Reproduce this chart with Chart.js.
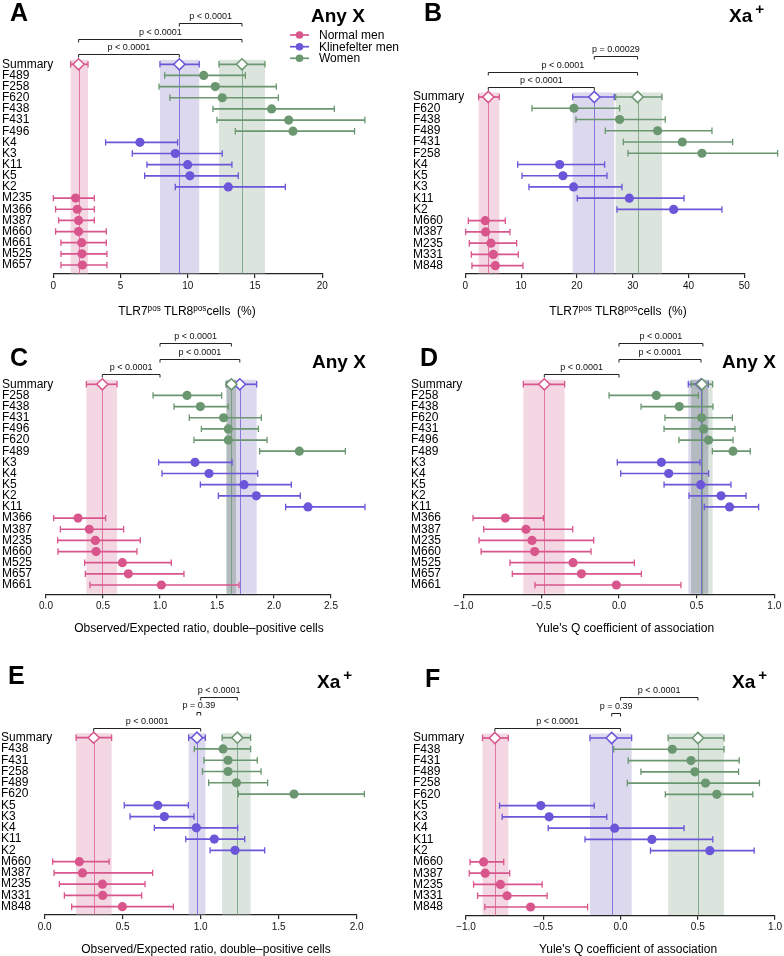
<!DOCTYPE html>
<html>
<head>
<meta charset="utf-8">
<script src="https://cdn.jsdelivr.net/npm/chart.js@4.4.1/dist/chart.umd.min.js"></script>
<style>
  body { margin: 0; background: #fff; width: 784px; height: 956px; position: relative; overflow: hidden;
         font-family: 'Liberation Sans', Arial, Helvetica, sans-serif; color: #000; }
  canvas { position: absolute; }
  .t { position: absolute; white-space: nowrap; line-height: 1; }
  .let { font-weight: bold; font-size: 25px; transform: translateY(-50%); }
  .ttl { font-weight: bold; font-size: 19px; transform: translateY(-50%); }
  .ax { font-size: 12px; transform: translate(-50%, -50%); }
  .lg { font-size: 12px; transform: translateY(-50%); }
  .sup { font-size: 0.68em; position: relative; top: -0.45em; }
  .sup2 { font-size: 0.8em; position: relative; top: -0.5em; margin-left: 3px; }
</style>
</head>
<body>
<canvas id="cA" width="392" height="300" style="left:0;top:0"></canvas>
<canvas id="cB" width="392" height="300" style="left:392px;top:0"></canvas>
<canvas id="cC" width="392" height="320" style="left:0;top:300px"></canvas>
<canvas id="cD" width="392" height="320" style="left:392px;top:300px"></canvas>
<canvas id="cE" width="392" height="336" style="left:0;top:620px"></canvas>
<canvas id="cF" width="392" height="336" style="left:392px;top:620px"></canvas>

<div class="t let" style="left:10px;top:12px">A</div>
<div class="t let" style="left:424px;top:12px">B</div>
<div class="t let" style="left:10px;top:357px">C</div>
<div class="t let" style="left:420px;top:357px">D</div>
<div class="t let" style="left:8px;top:675px">E</div>
<div class="t let" style="left:425px;top:678px">F</div>

<div class="t ttl" style="left:311px;top:15px">Any X</div>
<div class="t ttl" style="left:729px;top:15px">Xa<span class="sup2">+</span></div>
<div class="t ttl" style="left:312px;top:361px">Any X</div>
<div class="t ttl" style="left:722px;top:361px">Any X</div>
<div class="t ttl" style="left:317px;top:681px">Xa<span class="sup2">+</span></div>
<div class="t ttl" style="left:732px;top:681px">Xa<span class="sup2">+</span></div>

<div class="t lg" style="left:319px;top:34.5px">Normal men</div>
<div class="t lg" style="left:319px;top:46.5px">Klinefelter men</div>
<div class="t lg" style="left:319px;top:58px">Women</div>

<div class="t ax" style="left:187px;top:311px">TLR7<span class="sup">pos</span> TLR8<span class="sup">pos</span>cells&nbsp; (%)</div>
<div class="t ax" style="left:618px;top:311px">TLR7<span class="sup">pos</span> TLR8<span class="sup">pos</span>cells&nbsp; (%)</div>
<div class="t ax" style="left:199px;top:628px">Observed/Expected ratio, double–positive cells</div>
<div class="t ax" style="left:625px;top:628px">Yule's Q coefficient of association</div>
<div class="t ax" style="left:206px;top:949px">Observed/Expected ratio, double–positive cells</div>
<div class="t ax" style="left:628px;top:949px">Yule's Q coefficient of association</div>

<script>
// ---- data (summary order: Normal men, Klinefelter men, Women) ----
// A: Any X, % double positive
const idsA = ['F489','F258','F620','F438','F431','F496','K4','K3','K11','K5','K2','M235','M366','M387','M660','M661','M525','M657'];
const estA = [11.18, 12.04, 12.56, 16.23, 17.5, 17.82, 6.44, 9.07, 9.99, 10.16, 13.01, 1.66, 1.78, 1.88, 1.88, 2.11, 2.13, 2.16];
const loA  = [8.28, 7.86, 8.67, 11.87, 12.17, 13.53, 3.89, 5.87, 6.96, 6.79, 9.07, 0.0, 0.17, 0.4, 0.17, 0.57, 0.57, 0.57];
const hiA  = [14.28, 16.58, 16.73, 20.89, 23.17, 22.4, 9.24, 12.56, 13.28, 13.75, 17.25, 3.05, 3.05, 3.05, 3.94, 3.94, 3.99, 3.99];
const sumEstA = [1.88, 9.37, 14.03];
const sumLoA  = [1.29, 7.93, 12.32];
const sumHiA  = [2.58, 10.85, 15.74];
const brFromA = [9.37, 1.88, 1.88];
const brToA   = [14.03, 14.03, 9.37];
const brTextA = ['p < 0.0001', 'p < 0.0001', 'p < 0.0001'];

// B: Xa+, % double positive
const idsB = ['F620','F438','F489','F431','F258','K4','K5','K3','K11','K2','M660','M387','M235','M331','M848'];
const estB = [19.47, 27.66, 34.47, 38.89, 42.41, 16.91, 17.5, 19.41, 29.39, 37.34, 3.58, 3.64, 4.6, 5.02, 5.38];
const loB  = [11.95, 19.83, 25.09, 28.32, 29.15, 9.38, 10.16, 11.41, 20.07, 27.18, 0.54, 0.06, 0.72, 1.08, 1.19];
const hiB  = [27.66, 35.84, 44.21, 47.91, 55.97, 24.97, 25.39, 28.08, 39.19, 46.0, 7.17, 8.0, 9.2, 9.5, 10.33];
const sumEstB = [4.12, 23.12, 30.88];
const sumLoB  = [2.39, 19.24, 26.94];
const sumHiB  = [6.09, 26.7, 35.24];
const brFromB = [23.12, 4.12, 4.12];
const brToB   = [30.88, 30.88, 23.12];
const brTextB = ['p = 0.00029', 'p < 0.0001', 'p < 0.0001'];

// C: Any X, observed/expected ratio
const idsC = ['F258','F438','F431','F496','F620','F489','K3','K4','K5','K2','K11','M366','M387','M235','M660','M525','M657','M661'];
const estC = [1.237, 1.354, 1.558, 1.599, 1.599, 2.222, 1.307, 1.43, 1.737, 1.845, 2.298, 0.281, 0.38, 0.433, 0.439, 0.67, 0.722, 1.012];
const loC  = [0.939, 1.123, 1.257, 1.363, 1.298, 1.874, 0.988, 1.018, 1.354, 1.512, 2.102, 0.067, 0.126, 0.102, 0.105, 0.339, 0.345, 0.386];
const hiC  = [1.541, 1.599, 1.889, 1.863, 1.939, 2.626, 1.632, 1.857, 2.152, 2.231, 2.798, 0.523, 0.681, 0.827, 0.798, 1.099, 1.21, 1.693];
const sumEstC = [0.494, 1.70, 1.626];
const sumLoC  = [0.354, 1.585, 1.579];
const sumHiC  = [0.623, 1.848, 1.667];
const brFromC = [1.0, 1.0, 0.494];
const brToC   = [1.626, 1.70, 1.0];
const brTextC = ['p < 0.0001', 'p < 0.0001', 'p < 0.0001'];

// D: Any X, Yule's Q
const idsD = ['F258','F438','F620','F431','F496','F489','K3','K4','K5','K2','K11','M366','M387','M235','M660','M525','M657','M661'];
const estD = [0.240, 0.388, 0.532, 0.545, 0.577, 0.734, 0.273, 0.320, 0.526, 0.657, 0.712, -0.732, -0.599, -0.560, -0.543, -0.296, -0.242, -0.017];
const loD  = [-0.064, 0.142, 0.296, 0.290, 0.386, 0.601, -0.011, 0.011, 0.290, 0.451, 0.549, -0.940, -0.871, -0.901, -0.888, -0.702, -0.687, -0.541];
const hiD  = [0.511, 0.605, 0.730, 0.747, 0.734, 0.845, 0.521, 0.577, 0.721, 0.818, 0.899, -0.487, -0.298, -0.163, -0.180, 0.099, 0.144, 0.399];
const sumEstD = [-0.481, 0.528, 0.534];
const sumLoD  = [-0.616, 0.446, 0.464];
const sumHiD  = [-0.350, 0.575, 0.603];
const brFromD = [0, 0, -0.481];
const brToD   = [0.54, 0.528, 0];
const brTextD = ['p < 0.0001', 'p < 0.0001', 'p < 0.0001'];

// E: Xa+, observed/expected ratio
const idsE = ['F438','F431','F258','F489','F620','K5','K3','K4','K11','K2','M660','M387','M235','M331','M848'];
const estE = [1.143, 1.175, 1.175, 1.229, 1.598, 0.725, 0.767, 0.972, 1.087, 1.22, 0.222, 0.242, 0.370, 0.372, 0.498];
const loE  = [0.959, 1.021, 1.011, 1.051, 1.241, 0.51, 0.547, 0.703, 0.904, 1.06, 0.051, 0.06, 0.094, 0.126, 0.173];
const hiE  = [1.32, 1.363, 1.387, 1.429, 2.049, 0.921, 0.957, 1.237, 1.282, 1.41, 0.413, 0.692, 0.643, 0.622, 0.825];
const sumEstE = [0.314, 0.976, 1.235];
const sumLoE  = [0.201, 0.923, 1.137];
const sumHiE  = [0.429, 1.03, 1.32];
const brFromE = [1.0, 0.976, 0.314];
const brToE   = [1.235, 1.0, 1.0];
const brTextE = ['p < 0.0001', 'p = 0.39', 'p < 0.0001'];

// F: Xa+, Yule's Q
const idsF = ['F438','F431','F489','F258','F620','K5','K3','K4','K11','K2','M660','M387','M235','M331','M848'];
const estF = [0.335, 0.456, 0.481, 0.550, 0.623, -0.516, -0.462, -0.038, 0.203, 0.578, -0.886, -0.876, -0.777, -0.734, -0.582];
const loF  = [-0.044, 0.050, 0.132, 0.044, 0.290, -0.783, -0.766, -0.468, -0.230, 0.194, -0.974, -0.979, -0.951, -0.925, -0.878];
const hiF  = [0.670, 0.768, 0.764, 0.899, 0.856, -0.170, -0.089, 0.411, 0.597, 0.865, -0.756, -0.717, -0.507, -0.475, -0.213];
const sumEstF = [-0.813, -0.057, 0.501];
const sumLoF  = [-0.893, -0.198, 0.308];
const sumHiF  = [-0.726, 0.072, 0.670];
const brFromF = [0, -0.057, -0.813];
const brToF   = [0.501, 0, 0];
const brTextF = ['p < 0.0001', 'p = 0.39', 'p < 0.0001'];

// ---- styling ----
const COLORS = ['#d9568d', '#6b55d8', '#6a9670'];
const BANDS = ['#f3d8e3', '#dcd8ed', '#dce5dd'];
const OVERLAP = '#b3bbc0';
const FONT = "'Liberation Sans', Arial, Helvetica, sans-serif";
const AXIS = '#222';

function groupOf(id) {
    return id[0] === 'M' ? 0 : (id[0] === 'K' ? 1 : 2);
}

const forestPlugin = {
    id: 'forest',
    beforeDatasetsDraw(chart, args, o) {
        const { ctx, chartArea: ca } = chart;
        const x = chart.scales.x, y = chart.scales.y;
        const d = o.d;
        ctx.save();
        // shaded summary intervals
        for (let g = 0; g < 3; g++) {
            const x0 = x.getPixelForValue(d.sLo[g]), x1 = x.getPixelForValue(d.sHi[g]);
            ctx.fillStyle = BANDS[g];
            ctx.fillRect(x0, ca.top, x1 - x0, ca.bottom - ca.top - 0.7);
        }
        // overlapping intervals
        for (let a = 0; a < 3; a++) {
            for (let b = a + 1; b < 3; b++) {
                const lo = Math.max(d.sLo[a], d.sLo[b]), hi = Math.min(d.sHi[a], d.sHi[b]);
                if (hi > lo) {
                    const x0 = x.getPixelForValue(lo), x1 = x.getPixelForValue(hi);
                    ctx.fillStyle = OVERLAP;
                    ctx.fillRect(x0, ca.top, x1 - x0, ca.bottom - ca.top - 0.7);
                }
            }
        }
        // summary estimate lines
        ctx.lineWidth = 1;
        for (let g = 0; g < 3; g++) {
            const px = Math.round(x.getPixelForValue(d.sEst[g])) + 0.5;
            ctx.strokeStyle = COLORS[g];
            ctx.globalAlpha = 0.75;
            ctx.beginPath(); ctx.moveTo(px, ca.top); ctx.lineTo(px, ca.bottom); ctx.stroke();
        }
        ctx.globalAlpha = 1;

        const bar = (lo, hi, py, col) => {
            const x0 = x.getPixelForValue(lo), x1 = x.getPixelForValue(hi);
            ctx.strokeStyle = col;
            ctx.lineWidth = 1.7;
            ctx.beginPath(); ctx.moveTo(x0, py); ctx.lineTo(x1, py); ctx.stroke();
            ctx.lineWidth = 1.3;
            ctx.beginPath();
            ctx.moveTo(x0, py - 3.2); ctx.lineTo(x0, py + 3.2);
            ctx.moveTo(x1, py - 3.2); ctx.lineTo(x1, py + 3.2);
            ctx.stroke();
        };
        d.ids.forEach((id, i) => bar(d.lo[i], d.hi[i], y.getPixelForValue(i + 1), COLORS[groupOf(id)]));
        for (let g = 0; g < 3; g++) bar(d.sLo[g], d.sHi[g], y.getPixelForValue(0), COLORS[g]);
        ctx.restore();
    },
    afterDatasetsDraw(chart, args, o) {
        const { ctx, chartArea: ca } = chart;
        const x = chart.scales.x, y = chart.scales.y;
        const d = o.d;
        const levels = [36.5, 21, 5.5];
        ctx.save();

        // row labels (drawn here so long names can run past the axis box)
        ctx.fillStyle = '#000';
        ctx.font = '12px ' + FONT;
        ctx.textAlign = 'left';
        ctx.textBaseline = 'middle';
        o.rows.forEach((r, i) => ctx.fillText(r, o.labelX, y.getPixelForValue(i)));

        // significance brackets
        ctx.strokeStyle = AXIS;
        ctx.fillStyle = '#111';
        ctx.lineWidth = 1;
        ctx.font = '9px ' + FONT;
        ctx.textAlign = 'center';
        d.bFrom.forEach((f, i) => {
            const x0 = x.getPixelForValue(f), x1 = x.getPixelForValue(d.bTo[i]);
            const py = Math.round(ca.top - levels[i]) + 0.5;
            ctx.beginPath();
            ctx.moveTo(x0, py + 3); ctx.lineTo(x0, py); ctx.lineTo(x1, py); ctx.lineTo(x1, py + 3);
            ctx.stroke();
            ctx.fillText(d.bText[i], (x0 + x1) / 2, py - 7);
        });

        if (o.legend) {
            const ys = [35, 46.7, 58.3];
            ys.forEach((ly, g) => {
                ctx.strokeStyle = COLORS[g];
                ctx.lineWidth = 1.7;
                ctx.beginPath(); ctx.moveTo(290, ly); ctx.lineTo(309, ly); ctx.stroke();
                ctx.fillStyle = COLORS[g];
                ctx.beginPath(); ctx.arc(299.5, ly, 3.8, 0, Math.PI * 2); ctx.fill();
            });
        }
        ctx.restore();
    }
};

function makePanel(canvasId, L, d, xs) {
    const rows = ['Summary'].concat(d.ids);
    const n = rows.length;
    const s = (L.yLast - L.y0) / (n - 1);
    const top = L.y0 - 4.5;
    const yMin = -(L.y0 - top) / s;
    const yMax = (n - 1) + (L.axis - L.yLast) / s;

    const datasets = [0, 1, 2].map(g => ({
        data: d.ids.map((id, i) => ({ x: d.est[i], y: i + 1, g: groupOf(id) })).filter(p => p.g === g),
        pointStyle: 'circle',
        pointRadius: 4.6,
        pointBackgroundColor: COLORS[g],
        pointBorderWidth: 0,
        showLine: false,
        clip: false
    }));
    datasets.unshift({
        data: d.sEst.map(v => ({ x: v, y: 0 })),
        pointStyle: 'rectRot',
        pointRadius: 5.6,
        pointBackgroundColor: '#fff',
        pointBorderColor: COLORS,
        pointBorderWidth: 1.5,
        showLine: false,
        clip: false
    });

    return new Chart(document.getElementById(canvasId), {
        type: 'scatter',
        data: { datasets: datasets },
        plugins: [forestPlugin],
        options: {
            responsive: false,
            animation: false,
            events: [],
            layout: { padding: { left: L.labelX, right: L.w - L.right, top: top, bottom: 0 } },
            plugins: {
                legend: { display: false },
                tooltip: { enabled: false },
                forest: { d: d, rows: rows, labelX: L.labelX, legend: !!L.legend }
            },
            scales: {
                x: {
                    type: 'linear',
                    min: xs.min, max: xs.max,
                    afterFit: sc => { sc.height = L.h - L.axis; },
                    ticks: {
                        stepSize: xs.step,
                        autoSkip: false,
                        maxRotation: 0,
                        padding: 2,
                        color: '#111',
                        font: { family: FONT, size: 10 },
                        callback: v => (xs.dec ? v.toFixed(xs.dec) : String(v)).replace('-', '\u2212')
                    },
                    grid: { display: true, drawOnChartArea: false, drawTicks: true, tickLength: 4, color: AXIS, lineWidth: 1.2 },
                    border: { display: true, color: AXIS, width: 1.3 }
                },
                y: {
                    type: 'linear',
                    reverse: true,
                    min: yMin, max: yMax,
                    afterFit: sc => { sc.width = L.left - L.labelX; },
                    afterBuildTicks: sc => { sc.ticks = rows.map((r, i) => ({ value: i })); },
                    ticks: { display: false },
                    grid: { display: false },
                    border: { display: false }
                }
            }
        }
    });
}

makePanel('cA', { w: 392, h: 300, labelX: 2, left: 53.3, right: 322.3, y0: 64.3, yLast: 265, axis: 274, legend: true },
    { ids: idsA, est: estA, lo: loA, hi: hiA, sEst: sumEstA, sLo: sumLoA, sHi: sumHiA, bFrom: brFromA, bTo: brToA, bText: brTextA },
    { min: 0, max: 20, step: 5, dec: 0 });
makePanel('cB', { w: 392, h: 300, labelX: 21, left: 73.3, right: 352.3, y0: 97, yLast: 265.7, axis: 274 },
    { ids: idsB, est: estB, lo: loB, hi: hiB, sEst: sumEstB, sLo: sumLoB, sHi: sumHiB, bFrom: brFromB, bTo: brToB, bText: brTextB },
    { min: 0, max: 50, step: 10, dec: 0 });
makePanel('cC', { w: 392, h: 320, labelX: 2, left: 46, right: 331, y0: 84.3, yLast: 285, axis: 294.3 },
    { ids: idsC, est: estC, lo: loC, hi: hiC, sEst: sumEstC, sLo: sumLoC, sHi: sumHiC, bFrom: brFromC, bTo: brToC, bText: brTextC },
    { min: 0, max: 2.5, step: 0.5, dec: 1 });
makePanel('cD', { w: 392, h: 320, labelX: 19, left: 71.7, right: 382.3, y0: 84.3, yLast: 285, axis: 294.3 },
    { ids: idsD, est: estD, lo: loD, hi: hiD, sEst: sumEstD, sLo: sumLoD, sHi: sumHiD, bFrom: brFromD, bTo: brToD, bText: brTextD },
    { min: -1, max: 1, step: 0.5, dec: 1 });
makePanel('cE', { w: 392, h: 336, labelX: 1, left: 44.7, right: 356.7, y0: 117.7, yLast: 286.7, axis: 295 },
    { ids: idsE, est: estE, lo: loE, hi: hiE, sEst: sumEstE, sLo: sumLoE, sHi: sumHiE, bFrom: brFromE, bTo: brToE, bText: brTextE },
    { min: 0, max: 2, step: 0.5, dec: 1 });
makePanel('cF', { w: 392, h: 336, labelX: 21, left: 74, right: 385, y0: 118, yLast: 287, axis: 295.7 },
    { ids: idsF, est: estF, lo: loF, hi: hiF, sEst: sumEstF, sLo: sumLoF, sHi: sumHiF, bFrom: brFromF, bTo: brToF, bText: brTextF },
    { min: -1, max: 1, step: 0.5, dec: 1 });
</script>
</body>
</html>
